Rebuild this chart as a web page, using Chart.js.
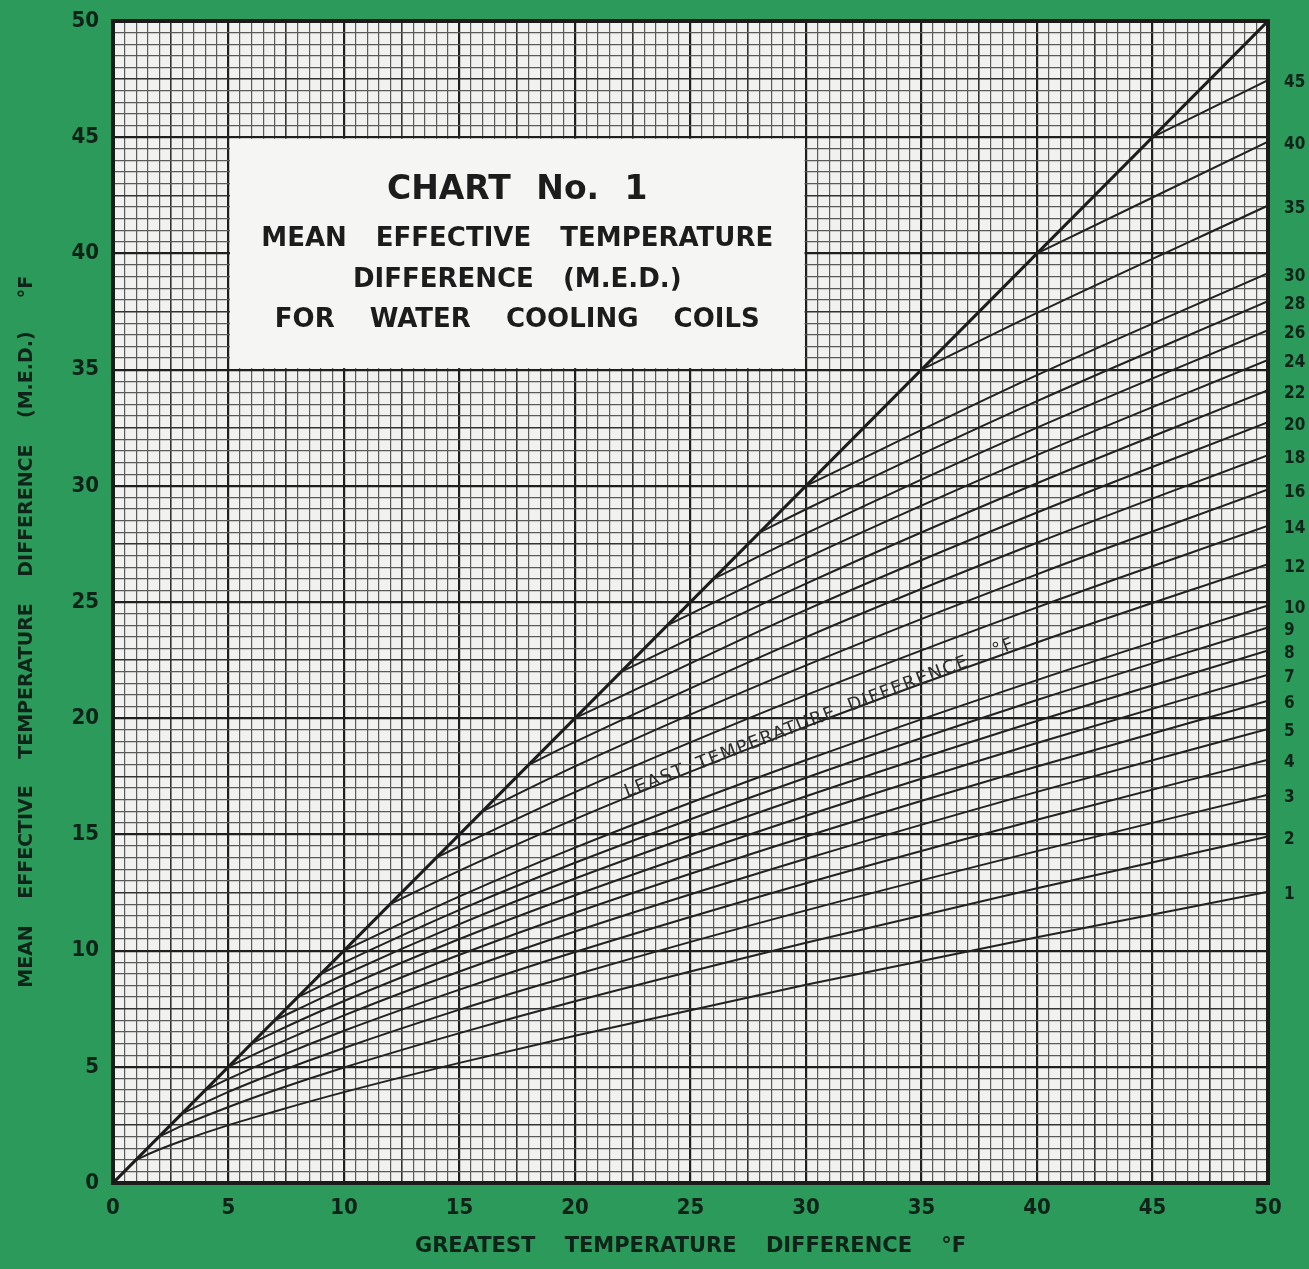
<!DOCTYPE html>
<html>
<head>
<meta charset="utf-8">
<title>Chart No. 1 - Mean Effective Temperature Difference</title>
<script src="https://cdn.jsdelivr.net/npm/chart.js@4.4.1/dist/chart.umd.min.js"></script>
<style>
  html, body { margin: 0; padding: 0; background: #2c9a5a; }
  #chart { display: block; }
</style>
</head>
<body>
<canvas id="chart" width="1309" height="1269"></canvas>
<script>
// greatest temperature difference (x) where each curve was read
const gtd = [2, 3, 5, 7, 10, 15, 20, 30, 40, 50];

// least temperature difference of each curve (labels on the right)
const ltd = [1, 2, 3, 4, 5, 6, 7, 8, 9, 10, 12, 14, 16, 18, 20, 22, 24, 26, 28, 30, 35, 40, 45];

// M.E.D. at the gtd points past its start
// (every curve starts on the 45 deg line at x = y = ltd)
const med = [
    [1.44, 1.82, 2.49, 3.08, 3.91, 5.17, 6.34, 8.53, 10.57, 12.53], // 1
    [2.47, 3.27, 3.99, 4.97, 6.45, 7.82, 10.34, 12.68, 14.91],      // 2
    [3.92, 4.72, 5.81, 7.46, 8.96, 11.73, 14.28, 16.71],            // 3
    [4.48, 5.36, 6.55, 8.32, 9.94, 12.90, 15.63, 18.21],            // 4
    [5.94, 7.21, 9.10, 10.82, 13.95, 16.83, 19.54],                 // 5
    [6.49, 7.83, 9.82, 11.63, 14.91, 17.92, 20.75],                 // 6
    [8.41, 10.50, 12.38, 15.80, 18.93, 21.87],                      // 7
    [8.96, 11.14, 13.10, 16.64, 19.88, 22.92],                      // 8
    [9.49, 11.75, 13.78, 17.44, 20.78, 23.91],                      // 9
    [12.33, 14.43, 18.20, 21.64, 24.85],                            // 10
    [13.44, 15.66, 19.64, 23.26, 26.63],                            // 12
    [14.49, 16.82, 20.99, 24.77, 28.28],                            // 14
    [17.93, 22.27, 26.19, 29.84],                                   // 16
    [18.98, 23.49, 27.55, 31.32],                                   // 18
    [24.66, 28.85, 32.74],                                          // 20
    [25.79, 30.11, 34.11],                                          // 22
    [26.89, 31.32, 35.42],                                          // 24
    [27.95, 32.50, 36.70],                                          // 26
    [28.99, 33.64, 37.94],                                          // 28
    [34.76, 39.15],                                                 // 30
    [37.44, 42.06],                                                 // 35
    [44.81],                                                        // 40
    [47.46]                                                         // 45
];

// the 45 degree line
const diagX = [0, 50];
const diagY = [0, 50];

// labelled ticks on both axes
const tickLabels = [0, 5, 10, 15, 20, 25, 30, 35, 40, 45, 50];

const GREEN = '#2c9a5a';
const INK = '#0f2418';
const PAPER = '#f1f1ef';
const LINE = '#222';
const NUM_FONT = '"Liberation Sans Narrow", "DejaVu Sans Condensed", "Liberation Sans", sans-serif';
const TITLE_FONT = '"DejaVu Sans", sans-serif';

function isMulti(v, step) {
    return Math.abs(v / step - Math.round(v / step)) < 1e-6;
}

function gridWidth(ctx) {
    const v = ctx.tick ? ctx.tick.value : 0;
    if (v === 0 || v === 50) return 4;
    if (isMulti(v, 5)) return 2.2;
    if (isMulti(v, 2.5)) return 1.6;
    return 1.2;
}

function gridColor(ctx) {
    const v = ctx.tick ? ctx.tick.value : 0;
    if (isMulti(v, 5)) return '#1f1f1f';
    return isMulti(v, 2.5) ? '#333' : '#5a5a5a';
}

function tickLabel(v) {
    return tickLabels.some(t => Math.abs(v - t) < 1e-6) ? String(v) : '';
}

// the first/last tick labels should not push the plot area in
function noEdgePadding(s) {
    s.paddingTop = 0;
    s.paddingBottom = 0;
}

// curves
const datasets = ltd.map((L, i) => {
    const pts = [{ x: L, y: L }];
    gtd.filter(g => g > L).forEach((g, j) => pts.push({ x: g, y: med[i][j] }));
    return {
        label: 'LTD ' + L,
        data: pts,
        showLine: true,
        borderColor: LINE,
        borderWidth: 2,
        pointRadius: 0,
        cubicInterpolationMode: 'monotone',
        fill: false
    };
});

datasets.push({
    label: 'GTD = M.E.D.',
    data: diagX.map((x, i) => ({ x: x, y: diagY[i] })),
    showLine: true,
    borderColor: '#1c1c1c',
    borderWidth: 3,
    pointRadius: 0,
    fill: false
});

const paper = {
    id: 'paper',
    beforeDraw(chart) {
        const { ctx, chartArea: a } = chart;
        ctx.save();
        ctx.fillStyle = GREEN;
        ctx.fillRect(0, 0, chart.width, chart.height);
        ctx.fillStyle = PAPER;
        ctx.fillRect(a.left, a.top, a.width, a.height);
        ctx.restore();
    },
    beforeDatasetsDraw(chart) {
        // title card sitting on the grid, x 5..30 / y 35..45
        const { ctx, scales: { x, y } } = chart;
        const l = x.getPixelForValue(5) + 1.5;
        const r = x.getPixelForValue(30) - 1.5;
        const t = y.getPixelForValue(45) + 1.5;
        const b = y.getPixelForValue(35) - 1.5;
        const top = y.getPixelForValue(45);
        const cx = (l + r) / 2;
        ctx.save();
        ctx.fillStyle = '#f5f5f3';
        ctx.fillRect(l, t, r - l, b - t);
        ctx.fillStyle = '#1c1c1c';
        ctx.textAlign = 'center';
        ctx.textBaseline = 'middle';
        ctx.wordSpacing = '14px';
        ctx.font = 'bold 33px ' + TITLE_FONT;
        ctx.fillText('CHART No. 1', cx, top + 53);
        ctx.wordSpacing = '20px';
        ctx.font = 'bold 26px ' + TITLE_FONT;
        ctx.fillText('MEAN EFFECTIVE TEMPERATURE', cx, top + 102);
        ctx.fillText('DIFFERENCE (M.E.D.)', cx, top + 143);
        ctx.wordSpacing = '26px';
        ctx.fillText('FOR WATER COOLING COILS', cx, top + 183);
        ctx.restore();
    },
    afterDatasetsDraw(chart) {
        const { ctx, chartArea: a, scales: { x, y } } = chart;
        ctx.save();
        // label written along the curves
        ctx.translate(x.getPixelForValue(30.6), y.getPixelForValue(20.0));
        ctx.rotate(-21 * Math.PI / 180);
        ctx.font = '18px ' + TITLE_FONT;
        ctx.letterSpacing = '1.6px';
        ctx.wordSpacing = '6px';
        ctx.fillStyle = '#2e2e2e';
        ctx.textAlign = 'center';
        ctx.textBaseline = 'middle';
        ctx.fillText('LEAST TEMPERATURE DIFFERENCE  °F', 0, 0);
        ctx.restore();

        // heavy frame
        ctx.save();
        ctx.lineWidth = 4;
        ctx.strokeStyle = '#1b1b1b';
        ctx.strokeRect(a.left, a.top, a.width, a.height);
        ctx.restore();
    }
};

const numTicks = {
    stepSize: 0.5,
    autoSkip: false,
    maxTicksLimit: 200,
    maxRotation: 0,
    color: INK,
    font: { family: NUM_FONT, weight: 'bold', size: 22 },
    callback: tickLabel
};

new Chart(document.getElementById('chart'), {
    type: 'scatter',
    data: { datasets: datasets },
    options: {
        responsive: false,
        animation: false,
        layout: { padding: { top: 21, left: 0, right: 0, bottom: 0 } },
        plugins: {
            legend: { display: false },
            tooltip: { enabled: false }
        },
        scales: {
            x: {
                type: 'linear',
                min: 0,
                max: 50,
                ticks: Object.assign({}, numTicks, { padding: 12 }),
                grid: { lineWidth: gridWidth, color: gridColor, drawTicks: false },
                border: { display: false },
                title: {
                    display: true,
                    text: 'GREATEST    TEMPERATURE    DIFFERENCE    °F',
                    color: INK,
                    font: { family: TITLE_FONT, weight: 'bold', size: 21 },
                    padding: { top: 0, bottom: 10 }
                },
                afterFit: s => { s.height = 86; }
            },
            y: {
                type: 'linear',
                min: 0,
                max: 50,
                ticks: Object.assign({}, numTicks, { padding: 14 }),
                grid: { lineWidth: gridWidth, color: gridColor, drawTicks: false },
                border: { display: false },
                title: {
                    display: true,
                    text: 'MEAN    EFFECTIVE    TEMPERATURE    DIFFERENCE    (M.E.D.)     °F         ',
                    color: INK,
                    font: { family: TITLE_FONT, weight: 'bold', size: 19 },
                    padding: { top: 16, bottom: 0 }
                },
                afterFit: s => { s.width = 113; noEdgePadding(s); }
            },
            y2: {
                type: 'linear',
                position: 'right',
                min: 0,
                max: 50,
                afterBuildTicks: s => {
                    s.ticks = med.map(row => ({ value: row[row.length - 1] }));
                },
                ticks: {
                    autoSkip: false,
                    padding: 16,
                    labelOffset: 3,
                    color: INK,
                    font: { family: NUM_FONT, weight: 'bold', size: 17 },
                    callback: (v, i) => String(ltd[i])
                },
                grid: { display: false, drawTicks: false },
                border: { display: false },
                afterFit: s => { s.width = 41; noEdgePadding(s); }
            }
        }
    },
    plugins: [paper]
});
</script>
</body>
</html>
